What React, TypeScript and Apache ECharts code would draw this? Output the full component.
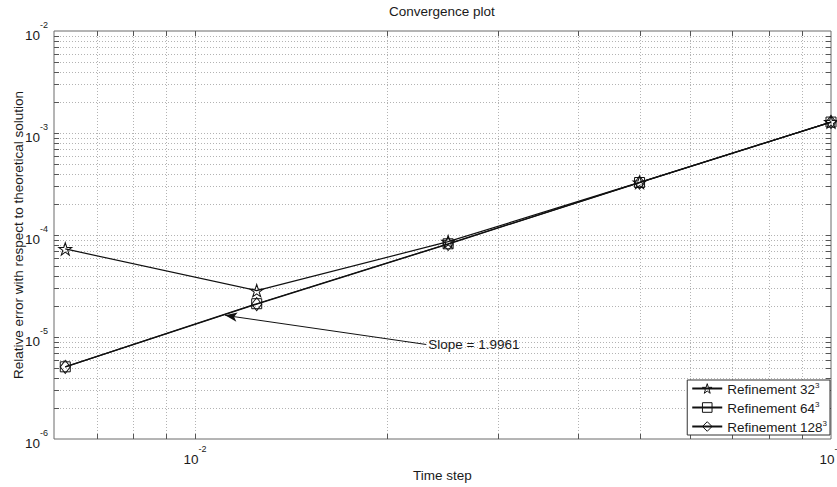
import React, { useEffect, useRef } from "react";
import * as echarts from "echarts";

// ---- data ----
const timeSteps = [0.00625, 0.0125, 0.025, 0.05, 0.1];
const err32 = [7.3e-5, 2.85e-5, 8.6e-5, 3.28e-4, 1.28e-3];
const err64 = [5.1e-6, 2.12e-5, 8.2e-5, 3.27e-4, 1.28e-3];
const err128 = [5.1e-6, 2.1e-5, 8.15e-5, 3.26e-4, 1.28e-3];
const seriesNames = ["Refinement 32", "Refinement 64", "Refinement 128"];

// grid / tick positions (log axes)
const xGridValues = [0.007, 0.008, 0.009, 0.01, 0.02, 0.03, 0.04, 0.05, 0.06, 0.07, 0.08, 0.09];
const yGridValues = [
  2e-6, 3e-6, 4e-6, 5e-6, 6e-6, 7e-6, 8e-6, 9e-6, 1e-5,
  2e-5, 3e-5, 4e-5, 5e-5, 6e-5, 7e-5, 8e-5, 9e-5, 1e-4,
  2e-4, 3e-4, 4e-4, 5e-4, 6e-4, 7e-4, 8e-4, 9e-4, 1e-3,
  2e-3, 3e-3, 4e-3, 5e-3, 6e-3, 7e-3, 8e-3, 9e-3,
];
const xRange = [0.006, 0.1];
const yRange = [1e-6, 1e-2];

// slope annotation (data coordinates)
const slopeLabel = "Slope = 1.9961";
const slopeArrowFrom = [0.0231, 8.44e-6];
const slopeArrowTo = [0.01115, 1.63e-5];

const FONT = "'Liberation Sans', Arial, Helvetica, sans-serif";
const TXT = "#1a1a1a";
const LINE = "#111";
const HOLLOW = "rgba(255,255,255,0)";

const STAR =
  "path://M100 0 L122.45 69.1 L195.1 69.1 L136.3 111.8 L158.8 180.9 L100 138.2 L41.2 180.9 L63.7 111.8 L4.9 69.1 L77.55 69.1 Z";

const expFormatter = (v: number) => {
  const e = Math.log10(v);
  const r = Math.round(e);
  if (Math.abs(e - r) > 1e-6) return "";
  return `{b|10}{s|${r}}`;
};

const expRich = {
  b: { fontSize: 13.5, lineHeight: 22, verticalAlign: "bottom", color: TXT, fontFamily: FONT },
  s: { fontSize: 9, lineHeight: 22, verticalAlign: "top", color: TXT, fontFamily: FONT },
};

const gridLineStyle = { stroke: "#b3b3b3", lineWidth: 1, lineDash: [1, 2] };
const tickStyle = { stroke: "#555", lineWidth: 1 };
const TICK = 5;

function renderVertical(params: any, api: any) {
  const cs = params.coordSys;
  const p = api.coord([api.value(0), api.value(1)]);
  const x = Math.round(p[0]) + 0.5;
  const top = cs.y;
  const bottom = cs.y + cs.height;
  return {
    type: "group",
    children: [
      { type: "line", shape: { x1: x, y1: top, x2: x, y2: bottom }, style: gridLineStyle },
      { type: "line", shape: { x1: x, y1: bottom, x2: x, y2: bottom - TICK }, style: tickStyle },
      { type: "line", shape: { x1: x, y1: top, x2: x, y2: top + TICK }, style: tickStyle },
    ],
  };
}

function renderHorizontal(params: any, api: any) {
  const cs = params.coordSys;
  const p = api.coord([api.value(0), api.value(1)]);
  const y = Math.round(p[1]) + 0.5;
  const left = cs.x;
  const right = cs.x + cs.width;
  return {
    type: "group",
    children: [
      { type: "line", shape: { x1: left, y1: y, x2: right, y2: y }, style: gridLineStyle },
      { type: "line", shape: { x1: left, y1: y, x2: left + TICK, y2: y }, style: tickStyle },
      { type: "line", shape: { x1: right, y1: y, x2: right - TICK, y2: y }, style: tickStyle },
    ],
  };
}

const pairs = (ys: number[]) => timeSteps.map((x, i) => [x, ys[i]]);

export default function App() {
  const ref = useRef<HTMLDivElement>(null);
  useEffect(() => {
    if (!ref.current) return;
    const chart = echarts.init(ref.current, undefined, { renderer: "svg" });
    const lineSeries = (name: string, ys: number[], symbol: string, symbolSize: any, z: number) => ({
      name,
      type: "line",
      data: pairs(ys),
      symbol,
      symbolSize,
      showAllSymbol: true,
      z,
      lineStyle: { color: LINE, width: 1.2 },
      itemStyle: { color: HOLLOW, borderColor: LINE, borderWidth: 1 },
      emphasis: { disabled: true },
    });
    const s128: any = lineSeries(seriesNames[2], err128, "diamond", [10, 13], 5);
    s128.markLine = {
      silent: true,
      symbol: ["none", "arrow"],
      symbolSize: [7, 12],
      lineStyle: { type: "solid", color: LINE, width: 1 },
      label: {
        show: true,
        position: "start",
        formatter: slopeLabel,
        color: TXT,
        fontSize: 13.5,
        fontFamily: FONT,
        distance: 2,
      },
      data: [[{ coord: slopeArrowFrom }, { coord: slopeArrowTo }]],
    };
    chart.setOption({
      animation: false,
      backgroundColor: "#fff",
      textStyle: { fontFamily: FONT, color: TXT },
      title: {
        text: "Convergence plot",
        left: 389,
        top: 4,
        padding: 0,
        textStyle: { fontSize: 13.5, fontWeight: "normal", color: TXT, fontFamily: FONT },
      },
      grid: {
        left: 54,
        top: 31,
        width: 777,
        height: 408,
        containLabel: false,
        outerBoundsMode: "none",
        show: true,
        borderColor: "#6a6a6a",
        borderWidth: 1,
        backgroundColor: "transparent",
      },
      legend: {
        data: seriesNames.map((n) => ({
          name: n,
          itemStyle: { color: HOLLOW, borderColor: LINE, borderWidth: 1 },
        })),
        orient: "vertical",
        right: 7,
        bottom: 52,
        padding: [1, 3, 1, 4],
        itemGap: 4,
        itemWidth: 30,
        itemHeight: 12,
        borderColor: "#333",
        borderWidth: 1,
        borderRadius: 0,
        backgroundColor: "#fff",
        itemStyle: { color: HOLLOW, borderColor: LINE, borderWidth: 1 },
        formatter: (name: string) => `{t|${name}}{sup|3}`,
        textStyle: {
          color: TXT,
          fontFamily: FONT,
          rich: {
            t: { fontSize: 13.5, lineHeight: 15, verticalAlign: "bottom", color: TXT, fontFamily: FONT },
            sup: { fontSize: 8, lineHeight: 15, verticalAlign: "top", color: TXT, fontFamily: FONT },
          },
        },
      },
      xAxis: {
        type: "log",
        logBase: 10,
        min: xRange[0],
        max: xRange[1],
        name: "Time step",
        nameLocation: "middle",
        nameGap: 29,
        nameMoveOverlap: false,
        nameTextStyle: { fontSize: 13.5, color: TXT, fontFamily: FONT },
        axisLine: { show: false },
        axisTick: { show: false },
        splitLine: { show: false },
        axisLabel: {
          formatter: expFormatter,
          rich: expRich,
          margin: 5,
          hideOverlap: false,
          showMinLabel: true,
          showMaxLabel: true,
        },
      },
      yAxis: {
        type: "log",
        logBase: 10,
        min: yRange[0],
        max: yRange[1],
        name: "Relative error with respect to theoretical solution",
        nameLocation: "middle",
        nameGap: 29,
        nameMoveOverlap: false,
        nameTextStyle: { fontSize: 13.5, color: TXT, fontFamily: FONT },
        axisLine: { show: false },
        axisTick: { show: false },
        splitLine: { show: false },
        axisLabel: { formatter: expFormatter, rich: expRich, margin: 6, hideOverlap: false },
      },
      series: [
        {
          type: "custom",
          silent: true,
          z: 1,
          clip: false,
          renderItem: renderVertical,
          data: xGridValues.map((x) => [x, 1e-4]),
        },
        {
          type: "custom",
          silent: true,
          z: 1,
          clip: false,
          renderItem: renderHorizontal,
          data: yGridValues.map((y) => [0.01, y]),
        },
        lineSeries(seriesNames[0], err32, STAR, [13, 12.4], 3),
        lineSeries(seriesNames[1], err64, "rect", 10, 4),
        s128,
      ],
    });
    return () => chart.dispose();
  }, []);
  return (
    <div
      ref={ref}
      style={{ position: "absolute", left: 0, top: 0, width: 837, height: 487, background: "#fff" }}
    />
  );
}
